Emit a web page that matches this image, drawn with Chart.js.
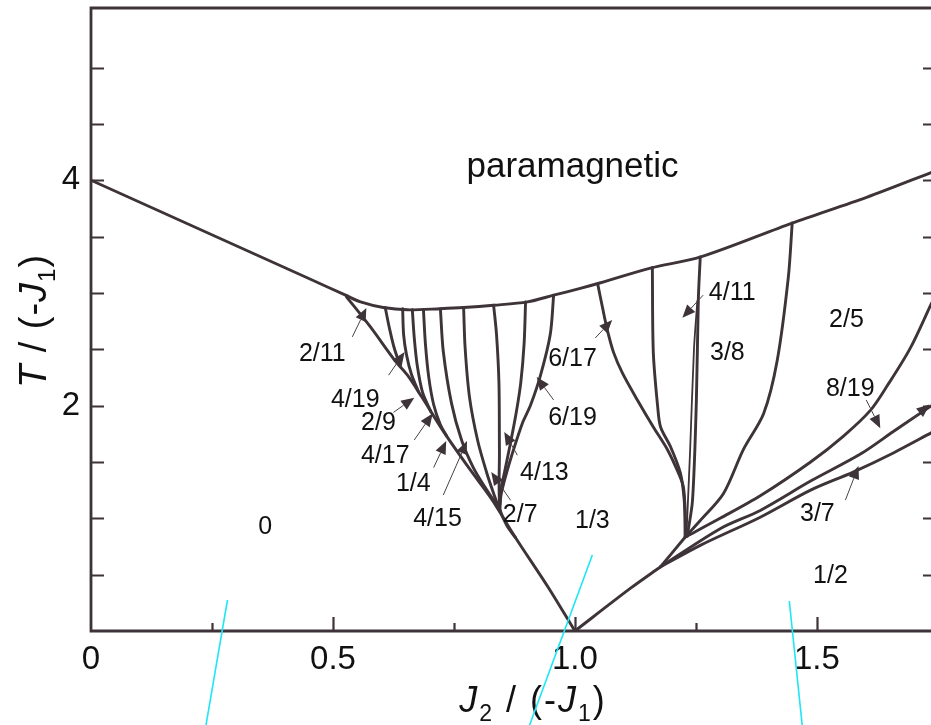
<!DOCTYPE html>
<html>
<head>
<meta charset="utf-8">
<script src="https://cdn.jsdelivr.net/npm/chart.js@4.4.1/dist/chart.umd.min.js"></script>
<style>
  html, body { margin: 0; padding: 0; background: #fff; overflow: hidden; }
  #wrap { position: absolute; left: 0; top: 0; width: 934px; height: 725px; }
</style>
</head>
<body>
<div id="wrap"><canvas id="phase"></canvas></div>
<script>
// ---- axis ranges and tick labels ----
const jRange = [0, 1.742];          // J2 / (-J1)
const tRange = [0, 5.528];          // T / (-J1)
const xTickLabels = { '0': '0', '0.5': '0.5', '1': '1.0', '1.5': '1.5' };
const yTickLabels = { '2': '2', '4': '4' };

// ---- phase boundaries: J2/(-J1) values and matching T/(-J1) values ----
// paramagnetic transition line
const paraJ = [0, 0.449, 0.526, 0.557, 0.604, 0.654, 0.722, 0.770, 0.832, 0.902, 0.956, 1.011, 1.053, 1.156, 1.260, 1.449, 1.604, 1.737];
const paraT = [4.00, 3.13, 2.98, 2.92, 2.87, 2.85, 2.86, 2.87, 2.89, 2.92, 2.98, 3.04, 3.09, 3.22, 3.32, 3.62, 3.85, 4.07];
// border of the "0" phase down to the multiphase point
const zeroJ = [0.528, 0.577, 0.628, 0.654, 0.683, 0.730, 0.782, 0.828, 0.877, 0.946, 1.0];
const zeroT = [2.965, 2.70, 2.40, 2.27, 2.08, 1.76, 1.44, 1.17, 0.83, 0.38, 0];
// fan of modulated phases between 0 and 1/3
const fan1J = [0.608, 0.616, 0.626, 0.639];
const fan1T = [2.87, 2.70, 2.52, 2.35];
const fan2J = [0.644, 0.646, 0.652, 0.662, 0.677];
const fan2T = [2.86, 2.63, 2.45, 2.28, 2.12];
const fan3J = [0.664, 0.668, 0.674, 0.685, 0.702];
const fan3T = [2.85, 2.60, 2.36, 2.12, 1.95];
const fan4J = [0.687, 0.691, 0.698, 0.708, 0.722, 0.735];
const fan4T = [2.85, 2.55, 2.25, 2.01, 1.83, 1.73];
const fan5J = [0.722, 0.728, 0.745, 0.766, 0.790, 0.815, 0.843];
const fan5T = [2.86, 2.48, 2.02, 1.69, 1.45, 1.27, 1.09];
const fan6J = [0.770, 0.773, 0.782, 0.799, 0.818, 0.832, 0.843];
const fan6T = [2.87, 2.52, 2.08, 1.69, 1.40, 1.22, 1.09];
const fan7J = [0.832, 0.838, 0.843, 0.844, 0.845, 0.860, 0.877];
const fan7T = [2.89, 2.63, 2.20, 1.60, 1.09, 0.93, 0.83];
const fan8J = [0.898, 0.895, 0.888, 0.878, 0.866, 0.855, 0.847, 0.845];
const fan8T = [2.92, 2.55, 2.20, 1.92, 1.65, 1.42, 1.25, 1.12];
const fan9J = [0.956, 0.949, 0.929, 0.908, 0.892, 0.871, 0.856, 0.847, 0.845];
const fan9T = [2.98, 2.63, 2.27, 2.00, 1.85, 1.58, 1.36, 1.20, 1.10];
// phases between 1/3 and 2/5
const p617J = [1.047, 1.057, 1.067, 1.080, 1.098, 1.129, 1.162, 1.191, 1.214, 1.224, 1.228, 1.228];
const p617T = [3.08, 2.87, 2.67, 2.47, 2.29, 2.05, 1.81, 1.61, 1.40, 1.28, 1.05, 0.834];
const p3J = [1.160, 1.162, 1.171, 1.177, 1.198, 1.218, 1.226, 1.228];
const p3T = [3.225, 2.47, 1.99, 1.81, 1.63, 1.40, 1.15, 0.834];
const p411J = [1.259, 1.255, 1.251, 1.243, 1.232];
const p411T = [3.32, 2.94, 2.05, 1.16, 0.84];
const p411bJ = [1.253, 1.246, 1.238, 1.231];
const p411bT = [2.93, 2.50, 1.60, 0.90];
const p38J = [1.449, 1.441, 1.418, 1.390, 1.348, 1.307, 1.259, 1.228];
const p38T = [3.62, 3.14, 2.40, 1.93, 1.61, 1.22, 0.98, 0.834];
// lines rising to the right of the multiphase point
const halfJ = [1.0, 1.115, 1.177];
const halfT = [0, 0.38, 0.57];
const riseJ = [1.177, 1.228];
const riseT = [0.57, 0.834];
const lowJ = [1.177, 1.259, 1.383, 1.487, 1.575, 1.658, 1.737];
const lowT = [0.57, 0.76, 1.01, 1.25, 1.41, 1.58, 1.76];
const midJ = [1.177, 1.301, 1.383, 1.487, 1.590, 1.658, 1.737];
const midT = [0.57, 0.91, 1.07, 1.33, 1.57, 1.77, 2.00];
const p819J = [1.228, 1.300, 1.383, 1.487, 1.555, 1.611, 1.646, 1.693, 1.737];
const p819T = [0.834, 1.00, 1.20, 1.50, 1.73, 1.96, 2.18, 2.51, 2.91];

// ---- cyan guide strokes ----
const cyanAJ = [0.237, 0.282];  const cyanAT = [-0.85, 0.275];
const cyanBJ = [0.905, 1.036];  const cyanBT = [-0.85, 0.674];
const cyanCJ = [1.470, 1.443];  const cyanCT = [-0.85, 0.266];

// ---- phase names ----
const labelText = ['paramagnetic', '0', '2/11', '4/19', '2/9', '4/17', '1/4', '4/15', '2/7', '4/13', '6/19', '6/17', '1/3', '4/11', '3/8', '2/5', '8/19', '3/7', '1/2'];
const labelJ = [0.995, 0.360, 0.478, 0.546, 0.594, 0.608, 0.666, 0.716, 0.887, 0.937, 0.995, 0.995, 1.036, 1.325, 1.315, 1.561, 1.569, 1.501, 1.528];
const labelT = [4.14, 0.94, 2.476, 2.067, 1.863, 1.570, 1.322, 1.012, 1.047, 1.42, 1.908, 2.43, 0.994, 3.017, 2.485, 2.777, 2.165, 1.056, 0.506];

// ---- pointer arrows toward the narrow phases (tail -> tip) ----
const arrowFromJ = [0.540, 0.615, 0.625, 0.668, 0.708, 0.728, 0.867, 0.881, 0.956, 1.042, 1.265, 1.602, 1.559, 1.690];
const arrowFromT = [2.61, 2.27, 1.94, 1.695, 1.45, 1.207, 1.16, 1.56, 2.05, 2.60, 2.98, 2.05, 1.162, 1.86];
const arrowToJ = [0.569, 0.648, 0.668, 0.706, 0.734, 0.777, 0.827, 0.854, 0.921, 1.077, 1.222, 1.631, 1.586, 1.733];
const arrowToT = [2.866, 2.475, 2.07, 1.93, 1.686, 1.686, 1.41, 1.766, 2.254, 2.76, 2.78, 1.80, 1.464, 2.01];

const INK = '#3d3338';
const FONT = '"Liberation Sans", Arial, Helvetica, sans-serif';

function pts(js, ts) { return js.map((j, i) => ({ x: j, y: ts[i] })); }
function boundary(js, ts, width) {
  return {
    data: pts(js, ts), borderColor: INK, borderWidth: width || 2.9,
    pointRadius: 0, tension: 0.3, fill: false,
    borderJoinStyle: 'round', borderCapStyle: 'round'
  };
}
function guide(js, ts) {
  return {
    data: pts(js, ts), borderColor: '#1fe6f4', borderWidth: 1.6,
    pointRadius: 0, tension: 0, fill: false, clip: false, order: -1
  };
}

const datasets = [
  guide(cyanAJ, cyanAT), guide(cyanBJ, cyanBT), guide(cyanCJ, cyanCT),
  boundary(paraJ, paraT), boundary(zeroJ, zeroT),
  boundary(fan1J, fan1T), boundary(fan2J, fan2T), boundary(fan3J, fan3T),
  boundary(fan4J, fan4T), boundary(fan5J, fan5T), boundary(fan6J, fan6T),
  boundary(fan7J, fan7T), boundary(fan8J, fan8T), boundary(fan9J, fan9T),
  boundary(p617J, p617T), boundary(p3J, p3T), boundary(p411J, p411T),
  boundary(p411bJ, p411bT, 1.8), boundary(p38J, p38T),
  boundary(halfJ, halfT), boundary(riseJ, riseT),
  boundary(lowJ, lowT), boundary(midJ, midT), boundary(p819J, p819T)
];

// frame with inward ticks on left, bottom and right
const framePlugin = {
  id: 'frame',
  beforeDatasetsDraw(chart) {
    const { ctx, chartArea: a, scales: { x, y } } = chart;
    ctx.save();
    ctx.strokeStyle = INK;
    ctx.lineWidth = 2.8;
    ctx.beginPath();
    ctx.moveTo(a.left, a.top); ctx.lineTo(a.right, a.top);
    ctx.lineTo(a.right, a.bottom); ctx.lineTo(a.left, a.bottom);
    ctx.closePath();
    ctx.stroke();
    ctx.lineWidth = 2.2;
    ctx.beginPath();
    y.ticks.forEach(t => {
      if (t.value <= 0 || t.value > 5.01) return;
      const py = Math.round(y.getPixelForValue(t.value)) + 0.5;
      ctx.moveTo(a.left, py); ctx.lineTo(a.left + 13, py);
      ctx.moveTo(a.right, py); ctx.lineTo(a.right - 11, py);
    });
    x.ticks.forEach(t => {
      if (t.value <= 0) return;
      const px = Math.round(x.getPixelForValue(t.value)) + 0.5;
      const major = Math.abs(t.value * 2 - Math.round(t.value * 2)) < 1e-6;
      ctx.moveTo(px, a.bottom); ctx.lineTo(px, a.bottom - (major ? 14 : 8));
    });
    ctx.stroke();
    ctx.restore();
  }
};

// axis titles with italic symbols and subscripts
function richWidth(ctx, parts, size, sub) {
  let w = 0;
  parts.forEach(p => {
    ctx.font = (p.it ? 'italic ' : '') + (p.sub ? sub : size) + 'px ' + FONT;
    w += ctx.measureText(p.t).width;
  });
  return w;
}
function richDraw(ctx, parts, size, sub, drop) {
  let cx = 0;
  parts.forEach(p => {
    ctx.font = (p.it ? 'italic ' : '') + (p.sub ? sub : size) + 'px ' + FONT;
    ctx.fillText(p.t, cx, p.sub ? drop : 0);
    cx += ctx.measureText(p.t).width;
  });
}
const xTitle = [{ t: 'J', it: true }, { t: '2', sub: true }, { t: ' / (-' }, { t: 'J', it: true }, { t: '1', sub: true }, { t: ')' }];
const yTitle = [{ t: 'T', it: true }, { t: ' / (-' }, { t: 'J', it: true }, { t: '1', sub: true }, { t: ')' }];

const titlePlugin = {
  id: 'titles',
  beforeDatasetsDraw(chart) {
    const { ctx, chartArea: a } = chart;
    ctx.save();
    ctx.fillStyle = '#111';
    ctx.textBaseline = 'alphabetic';
    ctx.letterSpacing = '2px';
    const wx = richWidth(ctx, xTitle, 36, 23);
    ctx.translate(a.left + 442 - wx / 2, a.bottom + 81);
    richDraw(ctx, xTitle, 36, 23, 9);
    ctx.restore();

    ctx.save();
    ctx.fillStyle = '#111';
    ctx.textBaseline = 'alphabetic';
    ctx.letterSpacing = '1px';
    const wy = richWidth(ctx, yTitle, 38, 24);
    ctx.translate(46, a.top + 313 + wy / 2);
    ctx.rotate(-Math.PI / 2);
    richDraw(ctx, yTitle, 38, 24, 9);
    ctx.restore();
  }
};

// phase names and pointer arrows
const notePlugin = {
  id: 'notes',
  afterDatasetsDraw(chart) {
    const { ctx, scales: { x, y } } = chart;
    ctx.save();
    ctx.strokeStyle = '#4a4046';
    ctx.fillStyle = INK;
    arrowFromJ.forEach((j, i) => {
      const x0 = x.getPixelForValue(j), y0 = y.getPixelForValue(arrowFromT[i]);
      const x1 = x.getPixelForValue(arrowToJ[i]), y1 = y.getPixelForValue(arrowToT[i]);
      const len = Math.hypot(x1 - x0, y1 - y0);
      const ux = (x1 - x0) / len, uy = (y1 - y0) / len;
      const L = 13, W = 5.5;
      const bx = x1 - ux * L, by = y1 - uy * L;
      ctx.lineWidth = 1;
      ctx.beginPath(); ctx.moveTo(x0, y0); ctx.lineTo(bx, by); ctx.stroke();
      ctx.beginPath();
      ctx.moveTo(x1, y1);
      ctx.lineTo(bx - uy * W, by + ux * W);
      ctx.lineTo(bx + uy * W, by - ux * W);
      ctx.closePath(); ctx.fill();
    });
    ctx.fillStyle = '#111';
    ctx.textAlign = 'center';
    ctx.textBaseline = 'alphabetic';
    labelText.forEach((s, i) => {
      const size = i === 0 ? 35 : 25;
      ctx.font = size + 'px ' + FONT;
      ctx.fillText(s, x.getPixelForValue(labelJ[i]), y.getPixelForValue(labelT[i]) + 0.358 * size);
    });
    ctx.restore();
  }
};

Chart.defaults.font.family = FONT;
new Chart(document.getElementById('phase'), {
  type: 'line',
  data: { datasets },
  options: {
    responsive: true,
    maintainAspectRatio: false,
    animation: false,
    devicePixelRatio: 1,
    layout: { padding: { top: 8, left: 0, right: 0, bottom: 0 } },
    plugins: { legend: { display: false }, tooltip: { enabled: false } },
    elements: { line: { borderColor: INK } },
    scales: {
      x: {
        type: 'linear', min: jRange[0], max: jRange[1],
        grid: { display: false, drawTicks: false }, border: { display: false },
        ticks: {
          stepSize: 0.25, autoSkip: false, maxRotation: 0, includeBounds: false,
          padding: 9, color: '#111', font: { size: 33 },
          callback: v => xTickLabels[String(Math.round(v * 100) / 100)] || ''
        },
        afterFit: s => { s.height = 94; s.paddingLeft = 0; s.paddingRight = 0; }
      },
      y: {
        type: 'linear', min: tRange[0], max: tRange[1],
        grid: { display: false, drawTicks: false }, border: { display: false },
        ticks: {
          stepSize: 0.5, autoSkip: false, includeBounds: false,
          padding: 11, color: '#111', font: { size: 33 },
          callback: v => yTickLabels[String(Math.round(v * 100) / 100)] || ''
        },
        afterFit: s => { s.width = 91; s.paddingTop = 0; s.paddingBottom = 0; }
      }
    }
  },
  plugins: [framePlugin, titlePlugin, notePlugin]
});
</script>
</body>
</html>
